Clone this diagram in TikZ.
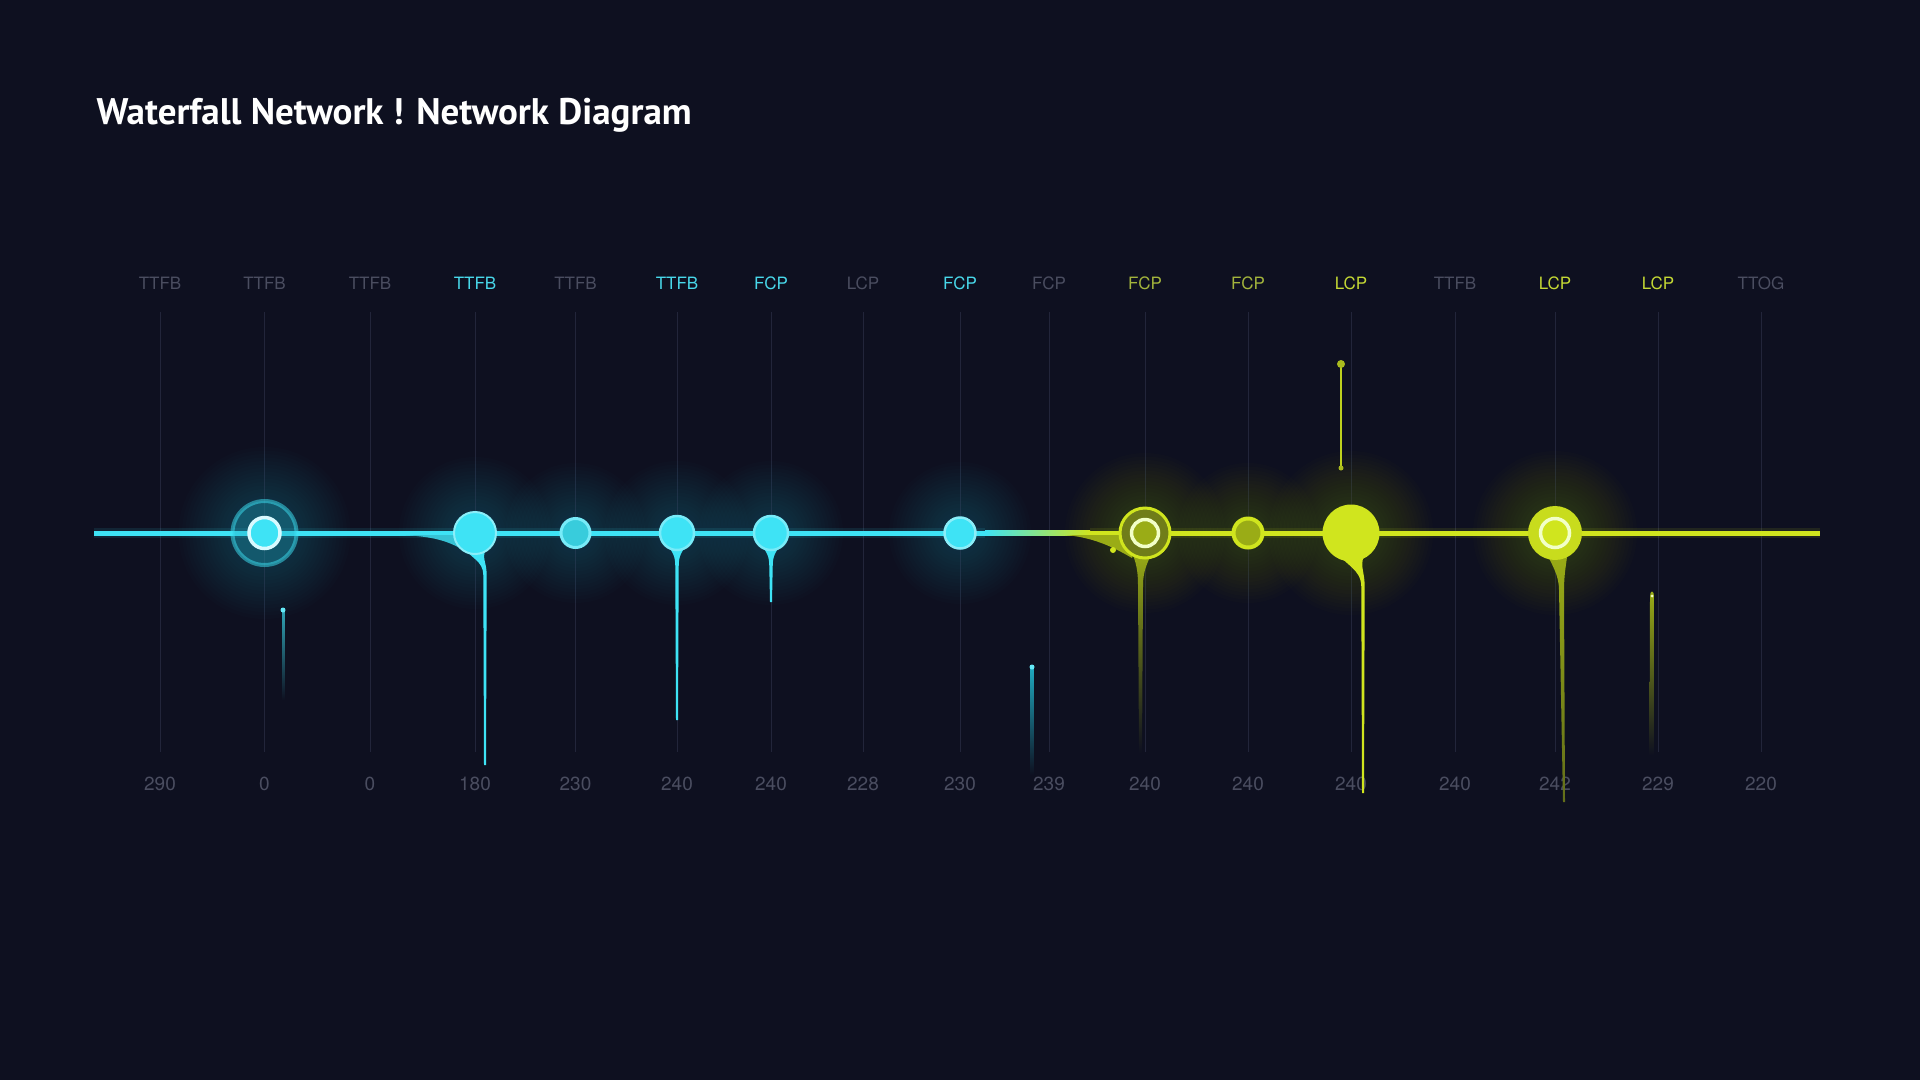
\documentclass[tikz,border=0pt]{standalone}
\usepackage{fontspec}
\setmainfont{TeX Gyre Heros}
\newfontfamily\titlefont{PT Sans}
\usetikzlibrary{positioning}

\definecolor{bg}{HTML}{0E1020}
\definecolor{gridc}{HTML}{22253A}
\definecolor{labgray}{HTML}{4A4D60}
\definecolor{labcyan}{HTML}{48D8EA}
\definecolor{labolive}{HTML}{A3B43C}
\definecolor{labyel}{HTML}{C4D834}
\definecolor{cyanc}{HTML}{3EE3F5}
\definecolor{cyand}{HTML}{1FA9C0}
\definecolor{cyanw}{HTML}{D8FAFF}
\definecolor{yelc}{HTML}{D0E51E}
\definecolor{yeld}{HTML}{9AAC16}
\definecolor{yelw}{HTML}{F2FFC8}

\tikzstyle{lab}      = [inner sep=0pt, text height=12pt, text depth=0pt, font=\fontsize{17}{17}\selectfont]
\tikzstyle{val}      = [inner sep=0pt, text height=13pt, text depth=0pt, text=labgray, font=\fontsize{19}{19}\selectfont]
\tikzstyle{gridline} = [draw=gridc, line width=1pt, shorten <=23pt, shorten >=25pt]
\tikzstyle{dot}      = [circle, inner sep=0pt]
\tikzstyle{cyanline} = [draw=cyanc, line width=5pt]
\tikzstyle{yelline}  = [draw=yelc, line width=5pt]

% soft halo round a point
\newcommand{\halo}[4]{\foreach \k in {1,...,16} {\fill[#4, opacity=0.016] (#1,#2) circle [radius={(#3+\k*3.5)*1pt}];}}
% tapering drop under a node: cx, cy, r, end x, end y, colour
\newcommand{\dripdown}[6]{\fill[#6] ({#1-0.6*#3},{#2+0.6*#3}) .. controls ({#1-0.25*#3},{#2+1.2*#3}) and ({#4-1.7},{#2+1.3*#3}) .. ({#4-1.7},{#2+2*#3}) -- ({#4-1},#5) -- ({#4+1},#5) -- ({#4+1.7},{#2+2*#3}) .. controls ({#4+1.7},{#2+1.3*#3}) and ({#1+0.25*#3},{#2+1.2*#3}) .. ({#1+0.6*#3},{#2+0.6*#3}) -- cycle;}

\begin{document}
\begin{tikzpicture}[x=1pt, y=-1pt]
        \fill[bg] (0,0) rectangle (1920,1080);
        \useasboundingbox (0,0) rectangle (1920,1080);

        \node[anchor=base west, text=white, font=\titlefont\bfseries\fontsize{37}{37}\selectfont] (title) at (93,124) {Waterfall Network ! Network Diagram};

        % column heads
        \node[lab, text=labgray] (l1)  at (160,283)  {TTFB};
        \node[lab, text=labgray] (l2)  at (264.5,283) {TTFB};
        \node[lab, text=labgray] (l3)  at (370,283)  {TTFB};
        \node[lab, text=labcyan] (l4)  at (475,283)  {TTFB};
        \node[lab, text=labgray] (l5)  at (575.5,283) {TTFB};
        \node[lab, text=labcyan] (l6)  at (677,283)  {TTFB};
        \node[lab, text=labcyan] (l7)  at (771,283)  {FCP};
        \node[lab, text=labgray] (l8)  at (863,283)  {LCP};
        \node[lab, text=labcyan] (l9)  at (960,283)  {FCP};
        \node[lab, text=labgray] (l10) at (1049,283) {FCP};
        \node[lab, text=labolive] (l11) at (1145,283) {FCP};
        \node[lab, text=labolive] (l12) at (1248,283) {FCP};
        \node[lab, text=labyel]  (l13) at (1351,283) {LCP};
        \node[lab, text=labgray] (l14) at (1455,283) {TTFB};
        \node[lab, text=labyel]  (l15) at (1555,283) {LCP};
        \node[lab, text=labyel]  (l16) at (1658,283) {LCP};
        \node[lab, text=labgray] (l17) at (1761,283) {TTOG};

        % column values
        \node[val] (v1)  at (160,784)  {290};
        \node[val] (v2)  at (264.5,784) {0};
        \node[val] (v3)  at (370,784)  {0};
        \node[val] (v4)  at (475,784)  {180};
        \node[val] (v5)  at (575.5,784) {230};
        \node[val] (v6)  at (677,784)  {240};
        \node[val] (v7)  at (771,784)  {240};
        \node[val] (v8)  at (863,784)  {228};
        \node[val] (v9)  at (960,784)  {230};
        \node[val] (v10) at (1049,784) {239};
        \node[val] (v11) at (1145,784) {240};
        \node[val] (v12) at (1248,784) {240};
        \node[val] (v13) at (1351,784) {240};
        \node[val] (v14) at (1455,784) {240};
        \node[val] (v15) at (1555,784) {242};
        \node[val] (v16) at (1658,784) {229};
        \node[val] (v17) at (1761,784) {220};

        \foreach \i in {1,...,17}
          \path[gridline] (l\i) -- (v\i);

        % halos
        \halo{264.5}{533}{30}{cyand}
        \halo{475}{533}{20}{cyand}
        \halo{575.5}{533}{14}{cyand}
        \halo{677}{533}{16}{cyand}
        \halo{771}{533}{16}{cyand}
        \halo{960}{533}{15}{cyand}
        \halo{1145}{533}{24}{yeld}
        \halo{1248}{533}{14}{yeld}
        \halo{1351}{533}{26}{yeld}
        \halo{1555}{533}{26}{yeld}

        % main line
        \coordinate (ls) at (94,533);
        \coordinate (tc1) at (985,533);
        \coordinate (tc2) at (1090,533);
        \coordinate (le) at (1820,533);
        \draw[cyanc, line width=10pt, opacity=0.1] (ls) -- (tc1);
        \draw[yelc, line width=10pt, opacity=0.1] (tc2) -- (le);
        \path[cyanline] (ls) -- (tc1);
        \shade[left color=cyanc, right color=yelc] (985,530.5) rectangle (1090,535.5);
        \path[yelline] (tc2) -- (le);

        % loose marks
        \shade[top color=cyanc!70!bg, bottom color=bg] (282,610) rectangle (284.5,700);
        \fill[cyanc!80] (283,610) circle (2.5pt);
        \shade[top color=cyand, bottom color=bg] (1030.5,667) rectangle (1033.5,775);
        \fill[cyanc!80] (1032,667) circle (2.5pt);
        \shade[top color=yeld, bottom color=bg] (1650,596) .. controls (1650,590) and (1654,590) .. (1654,596) -- (1654.5,755) -- (1649.5,755) -- cycle;
        \fill[yelw] (1652,596) circle (1.5pt);
        \draw[yelc!90!bg, line width=2pt] (1341,364) -- (1341,468);
        \node[dot, fill=yelc!80!bg, minimum size=8pt] (t13) at (1341,364) {};
        \node[dot, fill=yelc!80!bg, minimum size=5pt] (b13) at (1341,468) {};

        % drops
        \fill[cyanc!85!bg] (400,535) -- (470,535) -- (466,552) .. controls (450,541) and (432,536) .. (400,535) -- cycle;
        \dripdown{475}{533}{21}{485}{765}{cyanc}
        \dripdown{677}{533}{17}{677}{720}{cyanc}
        \dripdown{771}{533}{17}{771}{602}{cyanc}
        \fill[yeld] (1065,535) -- (1140,535) -- (1132,558) .. controls (1110,545) and (1090,537) .. (1065,535) -- cycle;
        \fill[yelc] (1113,550) circle (3pt);
        \shade[top color=yeld, bottom color=bg] (1131,550) .. controls (1136,562) and (1138,570) .. (1138,585) -- (1139,753) -- (1142,753) -- (1143,585) .. controls (1143,570) and (1148,562) .. (1153,550) -- cycle;
        \dripdown{1351}{533}{27}{1363}{793}{yelc}
        \shade[top color=yeld, bottom color=yeld!60!bg] (1545,550) .. controls (1552,565) and (1559,575) .. (1559,590) -- (1563,802) -- (1565,802) -- (1564,590) .. controls (1564,575) and (1566,565) .. (1568,550) -- cycle;

        % nodes
        \node[dot, fill=cyand, fill opacity=0.35, draw=cyanc, draw opacity=0.5, line width=4pt, minimum size=64pt] (n2o) at (264.5,533) {};
        \node[dot, fill=cyanc, draw=cyanw, line width=3.5pt, minimum size=31pt] (n2) at (264.5,533) {};
        \node[dot, fill=cyanc, draw=cyanc!60!white, line width=2pt, minimum size=42pt] (n4) at (475,533) {};
        \node[dot, fill=cyanc!90!black, draw=cyanc!70!white, line width=3pt, minimum size=29pt] (n5) at (575.5,533) {};
        \node[dot, fill=cyanc, draw=cyanc!70!white, line width=2.5pt, minimum size=34pt] (n6) at (677,533) {};
        \node[dot, fill=cyanc, draw=cyanc!70!white, line width=2.5pt, minimum size=34pt] (n7) at (771,533) {};
        \node[dot, fill=cyanc, draw=cyanc!60!white, line width=2.5pt, minimum size=31pt] (n9) at (960,533) {};
        \node[dot, fill=yeld!70!bg, draw=yelc, line width=3pt, minimum size=50pt] (n11o) at (1145,533) {};
        \node[dot, fill=yeld, draw=yelw, line width=3.5pt, minimum size=27pt] (n11) at (1145,533) {};
        \node[dot, fill=yeld, draw=yelc, line width=4pt, minimum size=29pt] (n12) at (1248,533) {};
        \node[dot, fill=yelc, minimum width=55pt, minimum height=57pt] (n13) at (1351,533) {};
        \node[dot, fill=yelc!85!yeld, minimum size=54pt] (n15o) at (1555,533) {};
        \node[dot, fill=yelc, draw=yelw, line width=3.5pt, minimum size=29pt] (n15) at (1555,533) {};
      \end{tikzpicture}
\end{document}
